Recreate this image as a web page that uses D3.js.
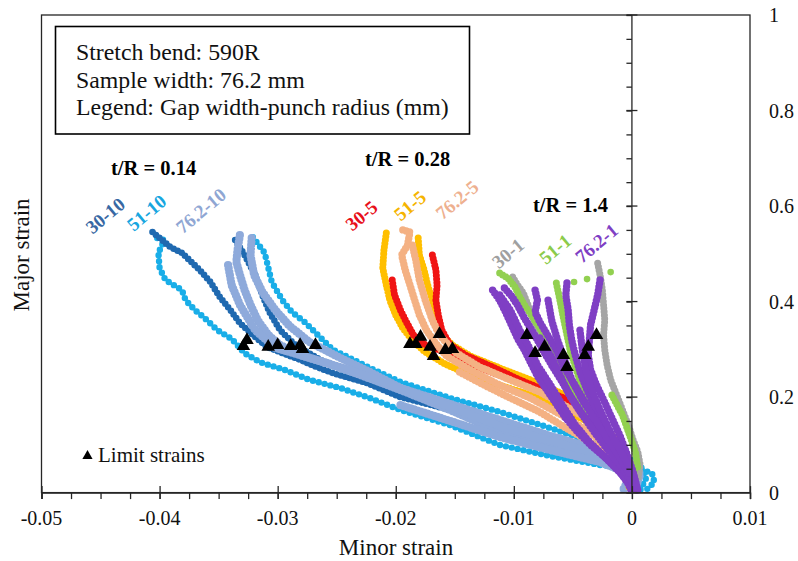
<!DOCTYPE html>
<html><head><meta charset="utf-8">
<script src="https://cdn.jsdelivr.net/npm/d3@7"></script>
<style>
body{margin:0;background:#fff;}
svg{display:block;font-family:"Liberation Serif","Times New Roman",serif;}
</style></head><body>
<svg id="chart" width="798" height="561"></svg>
<script>
// ---------- tick labels ----------
const xTicks = [-0.05,-0.04,-0.03,-0.02,-0.01,0,0.01];
const xTickLabels = ["-0.05","-0.04","-0.03","-0.02","-0.01","0","0.01"];
const yTicks = [0,0.2,0.4,0.6,0.8,1];
const yTickLabels = ["0","0.2","0.4","0.6","0.8","1"];

// ---------- strain paths [minor, major] ----------
// t/R = 0.14
const p30_10_a = [[-0.0406,0.5456],[-0.0391,0.5142],[-0.0381,0.5017],[-0.0366,0.466],[-0.0357,0.441],[-0.0349,0.4095],[-0.0340,0.382],[-0.0332,0.355],[-0.0321,0.330],[-0.0309,0.305],[-0.0296,0.292],[-0.0281,0.278],[-0.0267,0.263],[-0.0253,0.250],[-0.0224,0.229],[-0.0196,0.200],[-0.0154,0.173],[-0.0112,0.144],[-0.0061,0.110],[-0.0019,0.077],[-0.0003,0.043],[-0.0002,0.010]];
const p30_10_b = [[-0.0336,0.529],[-0.0328,0.4975],[-0.0319,0.4556],[-0.0313,0.4137],[-0.0307,0.378],[-0.0298,0.340],[-0.0285,0.309],[-0.0264,0.278],[-0.0239,0.2525]];
const p51_10_a = [[-0.0402,0.533],[-0.0396,0.529],[-0.0401,0.502],[-0.0400,0.470],[-0.0395,0.445],[-0.0381,0.424],[-0.0378,0.403],[-0.0370,0.382],[-0.0362,0.366],[-0.0351,0.340],[-0.0339,0.322],[-0.0328,0.292],[-0.0315,0.273],[-0.0294,0.257],[-0.0273,0.236],[-0.0247,0.219],[-0.0222,0.198],[-0.0196,0.173],[-0.0154,0.1415],[-0.0112,0.0997],[-0.0069,0.0766],[-0.0027,0.0578],[0.0003,0.0515],[0.0017,0.041],[0.0019,0.022],[0.0011,0.003]];
const p51_10_b = [[-0.0321,0.535],[-0.0311,0.502],[-0.0305,0.441],[-0.0296,0.403],[-0.0288,0.378],[-0.0277,0.357],[-0.0266,0.330],[-0.0253,0.2986],[-0.0239,0.282],[-0.0222,0.261],[-0.0196,0.2316],[-0.0154,0.198],[-0.0112,0.169],[-0.0069,0.135],[-0.0027,0.0997],[-0.0006,0.0787],[0.0007,0.0578],[0.0012,0.0306],[0.0007,0.005]];
const p762_10_a = [[-0.0332,0.539],[-0.0334,0.508],[-0.0335,0.483],[-0.0332,0.456],[-0.0328,0.424],[-0.0323,0.393],[-0.0317,0.361],[-0.0308,0.330],[-0.0298,0.309],[-0.0281,0.288],[-0.0256,0.269],[-0.0230,0.2462],[-0.0196,0.2148],[-0.0154,0.173],[-0.0112,0.127],[-0.0069,0.0997],[-0.0027,0.0724],[-0.0008,0.0515],[-0.0003,0.026],[-0.0008,0.003]];
const p762_10_b = [[-0.0322,0.533],[-0.0323,0.4975],[-0.0320,0.456],[-0.0313,0.420],[-0.0302,0.382],[-0.0290,0.349],[-0.0273,0.315],[-0.0247,0.282],[-0.0222,0.2525],[-0.0196,0.219],[-0.0154,0.1855],[-0.0112,0.152],[-0.0069,0.1185],[-0.0027,0.089],[-0.0002,0.064],[0.0007,0.039],[0.0003,0.0075]];
const p762_10_c = [[-0.0342,0.4765],[-0.0339,0.4347],[-0.0332,0.393],[-0.0319,0.340],[-0.0302,0.303],[-0.0273,0.282],[-0.0239,0.2567],[-0.0196,0.219],[-0.0112,0.139],[-0.0027,0.0787],[0,0.047],[-0.0002,0.014]];
const p762_10_d = [[-0.0196,0.183],[-0.0154,0.150],[-0.0112,0.1164],[-0.0069,0.089],[-0.0027,0.064],[-0.0006,0.043],[-0.0002,0.016]];
// t/R = 0.28
const p30_5_a = [[-0.0203,0.445],[-0.0201,0.4137],[-0.0196,0.382],[-0.0191,0.357],[-0.0185,0.330],[-0.0175,0.309],[-0.0158,0.2944],[-0.0137,0.269],[-0.0112,0.2462],[-0.0086,0.221],[-0.0061,0.194],[-0.0040,0.169],[-0.0023,0.135],[-0.0012,0.093]];
const p30_5_b = [[-0.0169,0.4975],[-0.0166,0.466],[-0.0165,0.4347],[-0.0166,0.403],[-0.0164,0.372],[-0.0161,0.340],[-0.0154,0.309],[-0.0141,0.288],[-0.0120,0.265],[-0.0095,0.236],[-0.0069,0.209],[-0.0053,0.194]];
const p51_5_a = [[-0.0208,0.5435],[-0.0210,0.508],[-0.0211,0.470],[-0.0208,0.4347],[-0.0205,0.403],[-0.0200,0.372],[-0.0194,0.3445],[-0.0186,0.3194],[-0.0175,0.2944],[-0.0158,0.269],[-0.0137,0.2462],[-0.0112,0.225],[-0.0086,0.2043],[-0.0061,0.177],[-0.0040,0.152],[-0.0023,0.1143],[-0.0012,0.0787],[-0.0004,0.043],[-0.0002,0.005]];
const p51_5_b = [[-0.0181,0.533],[-0.0180,0.4975],[-0.0176,0.466],[-0.0173,0.4347],[-0.0169,0.403],[-0.0166,0.3654],[-0.0161,0.330],[-0.0152,0.309],[-0.0137,0.286],[-0.0112,0.261],[-0.0086,0.236],[-0.0061,0.209],[-0.0044,0.190],[-0.0029,0.156],[-0.0017,0.1206],[-0.0007,0.0787],[-0.0002,0.043]];
const p762_5_a = [[-0.0194,0.550],[-0.0188,0.5457],[-0.0190,0.518],[-0.0195,0.4975],[-0.0192,0.466],[-0.0188,0.4347],[-0.0184,0.403],[-0.0180,0.372],[-0.0174,0.340],[-0.0167,0.315],[-0.0157,0.286],[-0.0137,0.257],[-0.0112,0.225],[-0.0086,0.198],[-0.0061,0.1646],[-0.0036,0.127],[-0.0019,0.0934],[-0.0006,0.060],[-0.0002,0.026]];
const p762_5_b = [[-0.0186,0.518],[-0.0183,0.487],[-0.0180,0.445],[-0.0175,0.403],[-0.0169,0.361],[-0.0163,0.330],[-0.0150,0.2944],[-0.0129,0.263],[-0.0103,0.236],[-0.0078,0.2106],[-0.0053,0.177],[-0.0029,0.1415],[-0.0014,0.1057],[-0.0006,0.072]];
const p762_5_c = [[-0.0146,0.2525],[-0.0125,0.225],[-0.0103,0.198],[-0.0078,0.1688],[-0.0053,0.131],[-0.0031,0.0997],[-0.0017,0.0724],[-0.0005,0.043]];
// t/R = 1.4
const p30_1_a = [[-0.0029,0.480],[-0.0027,0.456],[-0.0025,0.424],[-0.0024,0.393],[-0.0023,0.361],[-0.0024,0.330],[-0.0023,0.2986],[-0.0021,0.267],[-0.0018,0.236],[-0.0013,0.2043],[-0.0008,0.173],[-0.0003,0.1415],[0.0001,0.110],[0.0005,0.085],[0.0007,0.0578],[0.0005,0.026]];
const p30_1_b = [[-0.0101,0.4513],[-0.0097,0.4347],[-0.0092,0.418],[-0.0088,0.393],[-0.0084,0.3654],[-0.0080,0.340],[-0.0074,0.309],[-0.0067,0.2735],[-0.0059,0.236],[-0.0051,0.198],[-0.0040,0.156],[-0.0027,0.1164],[-0.0014,0.0787],[-0.0003,0.043]];
const p51_1_a = [[-0.0112,0.4596],[-0.0105,0.4492],[-0.0099,0.4305],[-0.0095,0.4095],[-0.0090,0.3885],[-0.0084,0.3675],[-0.0078,0.3445],[-0.0072,0.3194],[-0.0067,0.2944],[-0.0061,0.267],[-0.0055,0.24],[-0.0048,0.2085],[-0.0041,0.1771],[-0.0030,0.1415],[-0.0017,0.1039],[-0.0006,0.0724],[0.0002,0.043]];
const p51_1_b = [[-0.0064,0.4388],[-0.0061,0.403],[-0.0058,0.3654],[-0.0055,0.330],[-0.0052,0.2944],[-0.0047,0.2567],[-0.0042,0.219],[-0.0036,0.1834],[-0.0027,0.148],[-0.0016,0.110],[-0.0006,0.0787],[0.0002,0.0515]];
const p51_1_c = [[-0.0017,0.2043],[-0.0008,0.1625],[-0.0002,0.1206],[0.0003,0.085],[0.0005,0.0515]];
const p51_1_dots = [[-0.0038,0.447],[-0.0049,0.441],[-0.0018,0.4617]];
const p762_1_a = [[-0.0118,0.424],[-0.0112,0.403],[-0.0107,0.378],[-0.0102,0.351],[-0.0097,0.3236],[-0.0091,0.2986],[-0.0086,0.2735],[-0.0080,0.244],[-0.0072,0.2148],[-0.0064,0.1855],[-0.0056,0.156],[-0.0046,0.127],[-0.0034,0.0976],[-0.0020,0.0682],[-0.0010,0.043],[-0.0003,0.018],[0,0.001]];
const p762_1_b = [[-0.0108,0.4284],[-0.0102,0.4116],[-0.0097,0.393],[-0.0092,0.3696],[-0.0086,0.3445],[-0.0080,0.3194],[-0.0074,0.2923],[-0.0067,0.263],[-0.0059,0.2316],[-0.0051,0.198],[-0.0042,0.1646],[-0.0030,0.131],[-0.0019,0.0976],[-0.0008,0.064],[-0.0002,0.0356],[0.0003,0.005]];
const p762_1_c = [[-0.0082,0.424],[-0.0080,0.403],[-0.0082,0.378],[-0.0078,0.357],[-0.0071,0.328],[-0.0064,0.2986],[-0.0058,0.265],[-0.0050,0.2316],[-0.0041,0.194],[-0.0029,0.152],[-0.0017,0.110],[-0.0006,0.0682],[0.0002,0.0306],[0.0005,0.001]];
const p762_1_d = [[-0.0055,0.4388],[-0.0056,0.4137],[-0.0054,0.382],[-0.0053,0.351],[-0.0051,0.3194],[-0.0048,0.288],[-0.0044,0.2525],[-0.0038,0.2148],[-0.0030,0.173],[-0.0021,0.127],[-0.0012,0.085],[-0.0003,0.047],[0.0003,0.014]];
const p762_1_e = [[-0.0027,0.445],[-0.0029,0.4137],[-0.0032,0.382],[-0.0035,0.351],[-0.0036,0.3194],[-0.0037,0.288],[-0.0035,0.2567],[-0.0030,0.225],[-0.0024,0.194],[-0.0017,0.156],[-0.0010,0.1185],[-0.0004,0.0787],[0.0001,0.043],[0.0005,0.005]];
const p762_1_f = [[-0.0112,0.4137],[-0.0103,0.382],[-0.0095,0.340],[-0.0088,0.309],[-0.0080,0.267],[-0.0069,0.225],[-0.0059,0.1834],[-0.0048,0.1415],[-0.0036,0.1057],[-0.0023,0.0745],[-0.0012,0.047],[-0.0003,0.022]];
const p762_1_g = [[-0.0078,0.3236],[-0.0069,0.288],[-0.0061,0.2462],[-0.0053,0.2043],[-0.0042,0.1625],[-0.0030,0.1206],[-0.0019,0.085],[-0.0008,0.0515],[0,0.022]];
const p762_1_h = [[-0.0071,0.403],[-0.0068,0.361],[-0.0063,0.3194],[-0.0057,0.278],[-0.0051,0.236],[-0.0042,0.194],[-0.0031,0.152],[-0.0020,0.110],[-0.0010,0.0724],[-0.0002,0.0377]];
const p762_1_i = [[-0.0044,0.340],[-0.0042,0.2986],[-0.0039,0.2567],[-0.0034,0.2148],[-0.0027,0.173],[-0.0019,0.131],[-0.0010,0.089],[-0.0002,0.0515]];

// limit strains
const limitStrains = [[-0.0326,0.3195],[-0.0329,0.307],[-0.0308,0.305],[-0.0300,0.309],[-0.0289,0.307],[-0.0281,0.309],[-0.0279,0.3007],[-0.0268,0.309],
  [-0.0188,0.311],[-0.0183,0.311],[-0.0179,0.326],[-0.0171,0.305],[-0.0168,0.286],[-0.0163,0.332],[-0.0158,0.2986],[-0.0152,0.3007],
  [-0.0089,0.330],[-0.0082,0.292],[-0.0074,0.305],[-0.0058,0.288],[-0.0055,0.263],[-0.0040,0.288],[-0.0037,0.305],[-0.0030,0.330]];

// series (draw order)
const seriesNames = ["51-10","30-10","76.2-10","51-5","30-5","76.2-5","30-1","51-1","76.2-1"];
const seriesPaths = [[p51_10_a,p51_10_b],[p30_10_a,p30_10_b],[p762_10_a,p762_10_b,p762_10_c,p762_10_d],
  [p51_5_a,p51_5_b],[p30_5_a,p30_5_b],[p762_5_a,p762_5_b,p762_5_c],
  [p30_1_a,p30_1_b],[p51_1_a,p51_1_b,p51_1_c],[p762_1_a,p762_1_b,p762_1_c,p762_1_d,p762_1_e,p762_1_f,p762_1_g,p762_1_h,p762_1_i]];
const seriesDots = [[],[],[],[],[],[],[],p51_1_dots,[]];
const seriesColors = ["#19aee8","#1f69b0","#8eaadb","#ffbf00","#f01414","#f4b183","#a5a5a5","#92d050","#7f3fc4"];
const seriesWidth = [6.4,6.6,8.2,7,7,7.4,7,7,7.4];
const seriesGap = [6,4.5,3.5,3.5,3.5,3.5,3.5,3.5,3.5];

const labelNames = ["30-10","51-10","76.2-10","30-5","51-5","76.2-5","30-1","51-1","76.2-1"];
const labelColors = ["#3868a3","#17a6df","#8fa6d3","#e8101a","#f5b400","#eeb08f","#a0a0a0","#8ccb4a","#7f3fc4"];
const labelPos = [[-0.0446,0.580],[-0.0411,0.586],[-0.0365,0.590],[-0.0229,0.580],[-0.0188,0.601],[-0.0148,0.613],[-0.0105,0.501],[-0.0065,0.510],[-0.0030,0.522]];

const groupLabels = ["t/R = 0.14","t/R = 0.28","t/R = 1.4"];
const infoLines = ["Stretch bend: 590R","Sample width: 76.2 mm","Legend: Gap width-punch radius (mm)"];

// ---------- drawing ----------
const svg = d3.select("#chart");
const x = d3.scaleLinear().domain([-0.05,0.01]).range([41.5,750]);
const y = d3.scaleLinear().domain([0,1]).range([492.6,15]);
const axisColor = "#262626";

// series dots
const line = d3.line().x(d=>x(d[0])).y(d=>y(d[1]));
seriesPaths.forEach((paths,i)=>{
  const g = svg.append("g");
  paths.forEach(p=>{
    g.append("path").attr("d",line(p)).attr("fill","none")
      .attr("stroke",seriesColors[i]).attr("stroke-width",seriesWidth[i])
      .attr("stroke-linecap","round").attr("stroke-linejoin","round")
      .attr("stroke-dasharray",`0 ${seriesGap[i]}`);
  });
  g.selectAll("circle").data(seriesDots[i]).join("circle")
    .attr("cx",d=>x(d[0])).attr("cy",d=>y(d[1])).attr("r",3.3).attr("fill",seriesColors[i]);
});

// limit strain triangles
svg.append("g").selectAll("path").data(limitStrains).join("path")
  .attr("d",d3.symbol(d3.symbolTriangle,80))
  .attr("transform",d=>`translate(${x(d[0])},${y(d[1])})`)
  .attr("fill","#000");

// frame
svg.append("rect").attr("x",x(-0.05)).attr("y",y(1))
  .attr("width",x(0.01)-x(-0.05)).attr("height",y(0)-y(1))
  .attr("fill","none").attr("stroke",axisColor).attr("stroke-width",1.3);

// x axis
const xMinor = d3.range(-0.05,0.0100001,0.0025);
const gxm = svg.append("g").attr("transform",`translate(0,${y(0)})`)
  .call(d3.axisBottom(x).tickValues(xMinor).tickSize(6.5).tickFormat(""));
gxm.select(".domain").remove();
const gx = svg.append("g").attr("transform",`translate(0,${y(0)})`)
  .call(d3.axisBottom(x).tickValues(xTicks).tickSize(6.5).tickFormat(""));
gx.select(".domain").attr("stroke",axisColor).attr("stroke-width",1.3);
gx.selectAll(".tick line").attr("y1",-6.5).attr("y2",6.5);
svg.selectAll(".tick line").attr("stroke",axisColor).attr("stroke-width",1.3);
svg.append("g").selectAll("text").data(xTicks).join("text")
  .attr("x",d=>x(d)).attr("y",525).attr("text-anchor","middle")
  .attr("font-size",20).attr("fill","#111").text((d,i)=>xTickLabels[i]);

// y axis at minor strain 0
const yMinor = d3.range(0,1.00001,0.05);
const gy = svg.append("g").attr("transform",`translate(${x(0)},0)`)
  .call(d3.axisLeft(y).tickValues(yMinor).tickSize(5.5).tickFormat(""));
gy.select(".domain").remove();
gy.selectAll(".tick line").attr("stroke",axisColor).attr("stroke-width",1.3);
svg.append("g").selectAll("line").data(yTicks).join("line")
  .attr("x1",x(0)-5.5).attr("x2",x(0)+5.5).attr("y1",d=>y(d)).attr("y2",d=>y(d))
  .attr("stroke",axisColor).attr("stroke-width",1.3);
svg.append("line").attr("x1",x(0)).attr("x2",x(0)).attr("y1",y(0)).attr("y2",y(1))
  .attr("stroke",axisColor).attr("stroke-width",1.3);
svg.append("g").selectAll("text").data(yTicks).join("text")
  .attr("x",769).attr("y",d=>y(d)+7).attr("font-size",20).attr("fill","#111")
  .text((d,i)=>yTickLabels[i]);

// axis titles
svg.append("text").attr("x",396).attr("y",555).attr("text-anchor","middle")
  .attr("font-size",23).attr("fill","#111").text("Minor strain");
svg.append("text").attr("transform","translate(29,255) rotate(-90)").attr("text-anchor","middle")
  .attr("font-size",23).attr("fill","#111").text("Major strain");

// info box
svg.append("rect").attr("x",55.5).attr("y",26.5).attr("width",414).attr("height",107.5)
  .attr("fill","#fff").attr("stroke","#000").attr("stroke-width",1.6);
infoLines.forEach((t,i)=>{
  svg.append("text").attr("x",76).attr("y",60+i*27.5).attr("font-size",23.8)
    .attr("fill","#111").text(t);
});

// group labels
const groupPos = [[111,175],[365,166],[533,212]];
groupLabels.forEach((t,i)=>{
  svg.append("text").attr("x",groupPos[i][0]).attr("y",groupPos[i][1])
    .attr("font-size",20.5).attr("font-weight","bold").attr("fill","#000").text(t);
});

// series labels
labelNames.forEach((t,i)=>{
  svg.append("text")
    .attr("transform",`translate(${x(labelPos[i][0])},${y(labelPos[i][1])}) rotate(-40)`)
    .attr("text-anchor","middle").attr("dominant-baseline","central")
    .attr("font-size",19).attr("font-weight","bold").attr("fill",labelColors[i]).text(t);
});

// limit strain legend
svg.append("path").attr("d",d3.symbol(d3.symbolTriangle,45))
  .attr("transform","translate(87.5,456)").attr("fill","#000");
svg.append("text").attr("x",98).attr("y",462).attr("font-size",21).attr("fill","#111").text("Limit strains");
</script>
</body></html>
